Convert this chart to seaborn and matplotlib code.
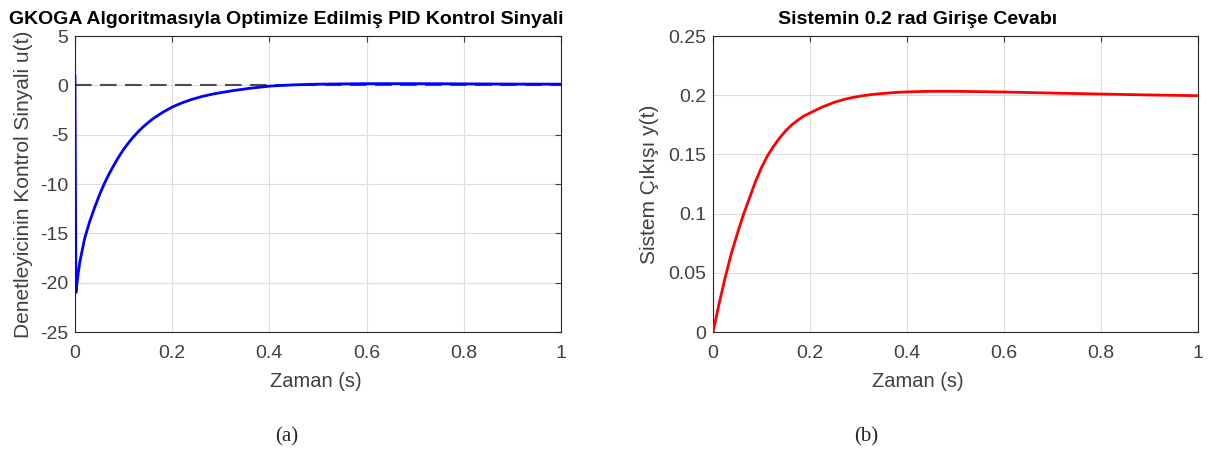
import matplotlib
matplotlib.use("Agg")
import matplotlib.pyplot as plt
import seaborn as sns
import pandas as pd

# Control signal u(t)
t_u = [0.0, 0.0, 0.002, 0.006, 0.01, 0.02, 0.03, 0.04, 0.05, 0.06, 0.07, 0.08, 0.09, 0.10, 0.11, 0.12, 0.13,
       0.14, 0.15, 0.16, 0.18, 0.20, 0.22, 0.24, 0.26, 0.28, 0.30, 0.33, 0.36, 0.40, 0.45, 0.50,
       0.60, 0.70, 0.80, 0.90, 1.00]
u_vals = [2.0, 0.0, -21.0, -19.3, -17.9, -15.5, -13.85, -12.45, -11.15, -10.0, -9.0, -8.1, -7.25, -6.5, -5.84, -5.24, -4.7,
          -4.22, -3.8, -3.4, -2.75, -2.2, -1.78, -1.43, -1.15, -0.92, -0.74, -0.5, -0.3, -0.08, 0.05, 0.12,
          0.17, 0.17, 0.15, 0.13, 0.12]

# System output y(t)
t_y = [0.0, 0.0125, 0.025, 0.0375, 0.05, 0.0625, 0.075, 0.0875, 0.10, 0.1125, 0.125, 0.1375, 0.15,
       0.1625, 0.175, 0.1875, 0.20, 0.225, 0.25, 0.275, 0.30, 0.325, 0.35, 0.375, 0.40, 0.45, 0.50,
       0.60, 0.70, 0.80, 0.90, 1.00]
y_vals = [0.0, 0.024, 0.046, 0.066, 0.083, 0.099, 0.113, 0.127, 0.139, 0.149, 0.157, 0.164, 0.170,
          0.175, 0.179, 0.1825, 0.185, 0.190, 0.194, 0.197, 0.199, 0.2005, 0.2015, 0.2023, 0.2028, 0.2033, 0.2033,
          0.2027, 0.2018, 0.2010, 0.2002, 0.1996]

titles = ["GKOGA Algoritmasıyla Optimize Edilmiş PID Kontrol Sinyali", "Sistemin 0.2 rad Girişe Cevabı"]
ylabels = ["Denetleyicinin Kontrol Sinyali u(t)", "Sistem Çıkışı y(t)"]
xlabel = "Zaman (s)"
x_ticks = [0, 0.2, 0.4, 0.6, 0.8, 1]
x_ticklabels = ["0", "0.2", "0.4", "0.6", "0.8", "1"]
u_ticks = [-25, -20, -15, -10, -5, 0, 5]
y_ticks = [0, 0.05, 0.1, 0.15, 0.2, 0.25]
y_ticklabels = ["0", "0.05", "0.1", "0.15", "0.2", "0.25"]
captions = ["(a)", "(b)"]

sns.set_style("white")
plt.rcParams['font.family'] = ['Liberation Sans', 'DejaVu Sans']

fig = plt.figure(figsize=(12.11, 4.53), dpi=100)
ax1 = fig.add_axes([0.0619, 0.2671, 0.4013, 0.6534])
ax2 = fig.add_axes([0.5888, 0.2671, 0.4005, 0.6534])

df_u = pd.DataFrame({"t": t_u, "u": u_vals})
df_y = pd.DataFrame({"t": t_y, "y": y_vals})

ax1.axhline(0, color="#4d4d4d", lw=1.5, ls=(0, (8, 4)), zorder=2)
sns.lineplot(data=df_u, x="t", y="u", ax=ax1, color=(0, 0, 1), lw=2.0, sort=False, zorder=3)
sns.lineplot(data=df_y, x="t", y="y", ax=ax2, color=(1, 0, 0), lw=2.0, sort=False, zorder=3)

tick_color = "#404040"
label_pos = [
    # (title x, xlabel x, ylabel x) in axes coords
    (0.435, 0.496, -0.0864),
    (0.422, 0.4227, -0.112),
]
for ax, title, ylab, (tx, xlx, ylx) in [(ax1, titles[0], ylabels[0], label_pos[0]),
                                        (ax2, titles[1], ylabels[1], label_pos[1])]:
    ax.set_xlim(0, 1)
    ax.set_xticks(x_ticks)
    ax.set_xticklabels(x_ticklabels)
    ax.grid(True, color="#dcdcdc", lw=0.8)
    ax.set_axisbelow(True)
    for s in ax.spines.values():
        s.set_color("#262626")
        s.set_linewidth(0.8)
    ax.tick_params(direction="in", length=4, width=0.8, colors=tick_color, labelsize=14,
                   top=True, right=True)
    ax.tick_params(axis="x", pad=9)
    ax.tick_params(axis="y", pad=5)
    ax.set_xlabel(xlabel, fontsize=14.5, color=tick_color)
    ax.set_ylabel(ylab, fontsize=15, color=tick_color)
    ax.xaxis.set_label_coords(xlx, -0.135)
    ax.yaxis.set_label_coords(ylx, 0.5)
    ax.set_title(title, fontsize=14, fontweight="bold", color="black", x=tx, pad=9)

ax1.set_ylim(-25, 5)
ax1.set_yticks(u_ticks)
ax1.set_yticklabels([str(v) for v in u_ticks])
ax2.set_ylim(0, 0.25)
ax2.set_yticks(y_ticks)
ax2.set_yticklabels(y_ticklabels)

fig.text(287 / 1211, 1 - 437 / 453, captions[0], fontsize=15, family="Liberation Serif", ha="center", va="center")
fig.text(866 / 1211, 1 - 437 / 453, captions[1], fontsize=15, family="Liberation Serif", ha="center", va="center")

fig.savefig("out.png", dpi=100)
